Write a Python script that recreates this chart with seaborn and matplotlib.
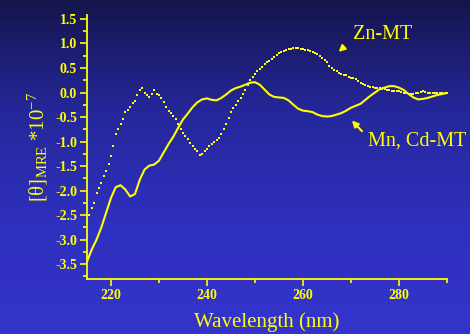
import numpy as np
import pandas as pd
import matplotlib
matplotlib.use("Agg")
import matplotlib.pyplot as plt
from matplotlib.colors import LinearSegmentedColormap
import seaborn as sns

wavelength = list(range(215, 291))

zn_mt = [-2.64, -2.35, -2.05, -1.85, -1.60, -1.30, -0.85, -0.65, -0.40, -0.30,
         -0.18, 0.05, 0.00, -0.10, 0.05, -0.05, -0.20, -0.38, -0.48, -0.65,
         -0.82, -0.95, -1.10, -1.20, -1.25, -1.15, -1.05, -0.97, -0.85, -0.65,
         -0.40, -0.25, -0.12, 0.05, 0.25, 0.38, 0.48, 0.58, 0.65, 0.72,
         0.80, 0.85, 0.88, 0.90, 0.90, 0.88, 0.86, 0.83, 0.78, 0.70,
         0.62, 0.50, 0.43, 0.38, 0.35, 0.30, 0.28, 0.20, 0.15, 0.12,
         0.10, 0.10, 0.07, 0.05, 0.03, 0.03, 0.00, -0.02, -0.03, 0.00,
         0.03, 0.00, -0.01, -0.01, 0.00, -0.01]

# second (noisy) row of Zn-MT dots, half-nm offset
zn_mt_b = [-2.50, -2.25, -1.95, -1.70, -1.45, -1.10, -0.75, -0.55, -0.35, -0.22,
           -0.05, 0.10, -0.05, -0.02, -0.02, -0.12, -0.30, -0.42, -0.55, -0.75,
           -0.88, -1.02, -1.15, -1.28, -1.20, -1.10, -1.00, -0.92, -0.75, -0.52,
           -0.32, -0.18, -0.02, 0.15, 0.32, 0.44, 0.53, 0.62, 0.68, 0.76,
           0.83, 0.87, 0.89, 0.91, 0.89, 0.87, 0.85, 0.80, 0.74, 0.66,
           0.55, 0.46, 0.40, 0.36, 0.32, 0.29, 0.24, 0.17, 0.13, 0.11,
           0.10, 0.08, 0.06, 0.04, 0.03, 0.02, -0.01, -0.03, -0.01, 0.02,
           0.01, -0.01, -0.01, 0.00, -0.01]

mncd_mt = [-3.45, -3.20, -3.00, -2.75, -2.45, -2.15, -1.93, -1.89, -1.98, -2.12,
           -2.07, -1.78, -1.57, -1.49, -1.47, -1.39, -1.22, -1.05, -0.90, -0.72,
           -0.55, -0.43, -0.30, -0.20, -0.14, -0.12, -0.15, -0.16, -0.11, -0.04,
           0.04, 0.09, 0.12, 0.16, 0.20, 0.21, 0.16, 0.06, -0.04, -0.09,
           -0.10, -0.11, -0.16, -0.25, -0.33, -0.37, -0.38, -0.40, -0.45, -0.48,
           -0.49, -0.48, -0.45, -0.42, -0.37, -0.31, -0.27, -0.23, -0.15, -0.07,
           0.00, 0.07, 0.10, 0.13, 0.13, 0.10, 0.05, -0.03, -0.10, -0.14,
           -0.13, -0.11, -0.08, -0.05, -0.03, -0.01]

x_ticks = [220, 240, 260, 280]
y_ticks = [1.5, 1.0, 0.5, 0.0, -0.5, -1.0, -1.5, -2.0, -2.5, -3.0, -3.5]

YEL = "#ffff00"

sns.set_theme(style="ticks")
plt.rcParams["font.family"] = ["Liberation Serif", "DejaVu Serif"]
plt.rcParams["mathtext.fontset"] = "custom"
plt.rcParams["mathtext.rm"] = "Liberation Serif"
plt.rcParams["mathtext.it"] = "Liberation Serif:italic"

fig = plt.figure(figsize=(4.7, 3.34), dpi=100)

# gradient background
bg = fig.add_axes([0, 0, 1, 1], zorder=-10)
cmap = LinearSegmentedColormap.from_list("bg", ["#15154c", "#25279a", "#2e30be", "#3434cc"])
grad = np.linspace(0, 1, 256).reshape(-1, 1)
bg.imshow(grad, aspect="auto", cmap=cmap, extent=[0, 1, 0, 1], origin="upper")
bg.set_axis_off()

ax = fig.add_axes([0.185, 0.165, 0.766, 0.79])
ax.set_facecolor("none")

df_solid = pd.DataFrame({"wl": wavelength, "v": mncd_mt})
sns.lineplot(data=df_solid, x="wl", y="v", ax=ax, color=YEL, lw=1.5)

df_dot = pd.DataFrame({"wl": wavelength, "v": zn_mt})
sns.scatterplot(data=df_dot, x="wl", y="v", ax=ax, color=YEL, marker="s",
                s=3.5, linewidth=0)
df_dot2 = pd.DataFrame({"wl": [w + 0.5 for w in wavelength[:-1]], "v": zn_mt_b})
sns.scatterplot(data=df_dot2, x="wl", y="v", ax=ax, color=YEL, marker="s",
                s=3.5, linewidth=0)

ax.set_xlim(215, 290)
ax.set_ylim(-3.8, 1.58)
ax.set_xticks(x_ticks)
ax.set_xticks(list(range(230, 291, 20)), minor=True)
ax.set_yticks(y_ticks)
ax.set_yticks(np.arange(-3.75, 1.6, 0.5), minor=True)
ax.set_xticklabels([str(t) for t in x_ticks], fontweight="bold", fontsize=10, color=YEL)
ax.set_yticklabels([f"{t:.1f}" for t in y_ticks], fontweight="bold", fontsize=10, color=YEL)
ax.tick_params(which="major", length=5, width=1.2, color=YEL, direction="out", pad=2)
ax.tick_params(which="minor", length=3, width=1.2, color=YEL, direction="out")

for s in ["top", "right"]:
    ax.spines[s].set_visible(False)
for s in ["left", "bottom"]:
    ax.spines[s].set_color(YEL)
    ax.spines[s].set_linewidth(1.3)

ax.set_xlabel("Wavelength (nm)", fontsize=15, color=YEL, labelpad=8)
ax.set_ylabel("[θ]$_{\\mathrm{MRE}}$ *10$^{-7}$", fontsize=15, color=YEL, labelpad=4)

ax.text(270.4, 1.18, "Zn-MT", fontsize=14.5, color=YEL, va="center", ha="left")
ax.annotate("", xy=(267.0, 0.79), xytext=(268.9, 0.96),
            arrowprops=dict(arrowstyle="-|>", color=YEL, lw=1.5, mutation_scale=9))
ax.text(273.5, -0.98, "Mn, Cd-MT", fontsize=14.5, color=YEL, va="center", ha="left")
ax.annotate("", xy=(269.8, -0.53), xytext=(272.7, -0.83),
            arrowprops=dict(arrowstyle="-|>", color=YEL, lw=1.5, mutation_scale=9))

fig.savefig("out.png", dpi=100)
